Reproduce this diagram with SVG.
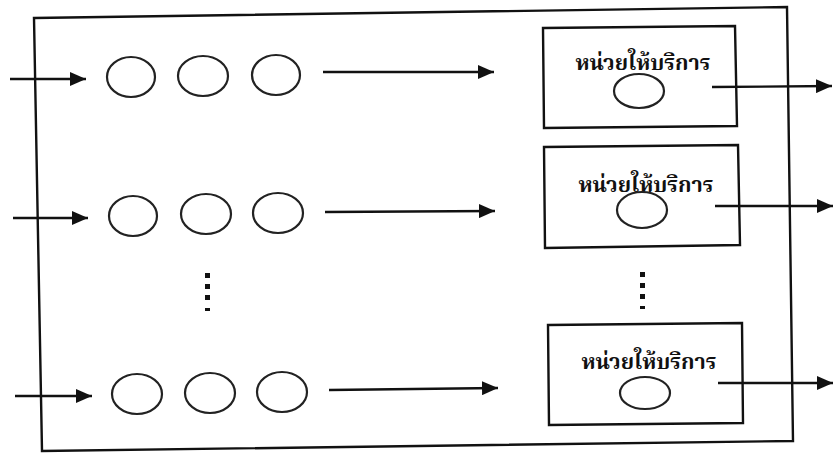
<svg xmlns="http://www.w3.org/2000/svg" width="833" height="453" viewBox="0 0 833 453">
  <defs>
    <marker id="arrow" viewBox="0 0 16 14" refX="16" refY="7" markerWidth="16" markerHeight="14" markerUnits="userSpaceOnUse" orient="auto">
      <path d="M0,0 L16,7 L0,14 Z" fill="#111"/>
    </marker>
  </defs>
  <style>
    .frame { fill: none; stroke: #111; stroke-width: 2.4; }
    .queue { fill: none; stroke: #222; stroke-width: 2.2; }
    .box { fill: none; stroke: #111; stroke-width: 2.4; }
    .flow { fill: none; stroke: #111; stroke-width: 2.3; marker-end: url(#arrow); }
    .dot { fill: #111; }
    .label { font-family: "Noto Serif Thai", "Noto Sans Thai", "Loma", "Norasi", "Garuda", serif; font-weight: bold; font-size: 21.5px; fill: #111; }
  </style>
  <rect width="833" height="453" fill="#ffffff"/>

  <!-- system boundary (slightly skewed) -->
  <g id="system">
    <polygon class="frame" points="34,18 787,7 793,441 42,451"/>
  </g>

  <!-- queue 1 -->
  <g id="queue1">
    <ellipse class="queue" cx="131" cy="77" rx="24" ry="20"/>
    <ellipse class="queue" cx="203" cy="76" rx="25" ry="20"/>
    <ellipse class="queue" cx="276" cy="75" rx="24" ry="20"/>
  </g>
  <!-- queue 2 -->
  <g id="queue2">
    <ellipse class="queue" cx="133" cy="216" rx="24" ry="20"/>
    <ellipse class="queue" cx="206" cy="214" rx="25" ry="20"/>
    <ellipse class="queue" cx="278" cy="213" rx="25" ry="20"/>
  </g>
  <!-- queue 3 -->
  <g id="queue3">
    <ellipse class="queue" cx="137" cy="394" rx="25" ry="20"/>
    <ellipse class="queue" cx="210" cy="393" rx="25" ry="20"/>
    <ellipse class="queue" cx="282" cy="392" rx="25" ry="20"/>
  </g>

  <!-- service units -->
  <g id="server1">
    <polygon class="box" points="543,28 735,26 737,126 544,128"/>
    <text class="label" x="643" y="70" text-anchor="middle">หน่วยให้บริการ</text>
    <ellipse class="queue" cx="639" cy="91" rx="25" ry="17"/>
  </g>
  <g id="server2">
    <polygon class="box" points="544,147 738,145 740,245 545,248"/>
    <text class="label" x="646" y="192" text-anchor="middle">หน่วยให้บริการ</text>
    <ellipse class="queue" cx="642" cy="210" rx="25" ry="18"/>
  </g>
  <g id="server3">
    <polygon class="box" points="548,325 742,323 743,423 549,425"/>
    <text class="label" x="649" y="369" text-anchor="middle">หน่วยให้บริการ</text>
    <ellipse class="queue" cx="645" cy="393" rx="25" ry="16"/>
  </g>

  <!-- continuation marks -->
  <g id="ellipsis-queue">
    <rect class="dot" x="205" y="273" width="5" height="5"/>
    <rect class="dot" x="205" y="284" width="5" height="5"/>
    <rect class="dot" x="205" y="295" width="5" height="5"/>
    <rect class="dot" x="205" y="308" width="5" height="3"/>
  </g>
  <g id="ellipsis-server">
    <rect class="dot" x="640" y="272" width="5" height="5"/>
    <rect class="dot" x="640" y="283" width="5" height="5"/>
    <rect class="dot" x="640" y="294" width="5" height="5"/>
    <rect class="dot" x="640" y="306" width="5" height="3"/>
  </g>

  <!-- flows -->
  <g id="connectors">
    <line class="flow" x1="10" y1="79" x2="86" y2="79"/>
    <line class="flow" x1="323" y1="72" x2="494" y2="72"/>
    <line class="flow" x1="712" y1="87" x2="832" y2="86"/>

    <line class="flow" x1="13" y1="218" x2="88" y2="218"/>
    <line class="flow" x1="325" y1="212" x2="495" y2="211"/>
    <line class="flow" x1="715" y1="206" x2="833" y2="206"/>

    <line class="flow" x1="15" y1="396" x2="92" y2="396"/>
    <line class="flow" x1="329" y1="390" x2="498" y2="388"/>
    <line class="flow" x1="718" y1="383" x2="833" y2="383"/>
  </g>
</svg>
